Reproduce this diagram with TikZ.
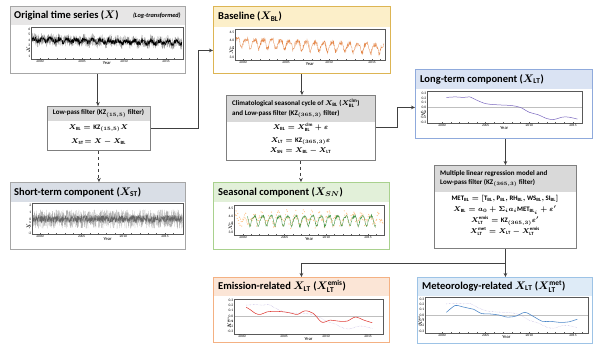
\documentclass[tikz,border=0pt]{standalone}
\usepackage{fontspec}
\setmainfont{Carlito}
\usetikzlibrary{arrows.meta}
\definecolor{grayB}{HTML}{A6A6A6}
\definecolor{grayH}{HTML}{E7E6E6}
\definecolor{yelB}{HTML}{DDB553}
\definecolor{yelH}{HTML}{FCEFC9}
\definecolor{stH}{HTML}{D9DEE6}
\definecolor{grnB}{HTML}{A9D18E}
\definecolor{grnH}{HTML}{E2F0D9}
\definecolor{bluB}{HTML}{8FAADC}
\definecolor{bluH}{HTML}{DAE3F3}
\definecolor{orgB}{HTML}{F4B183}
\definecolor{orgH}{HTML}{FBE5D6}
\definecolor{lbB}{HTML}{9DC3E6}
\definecolor{lbH}{HTML}{DEEBF7}
\definecolor{filB}{HTML}{7F7F7F}
\definecolor{filH}{HTML}{D9D9D9}
\definecolor{connC}{HTML}{404040}
\definecolor{blOrange}{HTML}{E58A4E}
\definecolor{snGreen}{HTML}{4E9A4E}
\definecolor{ltPurple}{HTML}{7B68C0}
\definecolor{emRed}{HTML}{E0403A}
\definecolor{meBlue}{HTML}{4A86C8}
\newcommand\axfr[6]{%
  \draw[frm] (#1,#3) rectangle (#2,#4);
  \foreach \yr/\lab in {0/2000,5/2005,10/2010,15/2015}{\node[tk,anchor=north] at (\yr,#3) {\lab};}
  \foreach \yr in {0,...,16}{\draw[frm] (\yr,#3) -- ([yshift=1pt]\yr,#3);}
  \foreach \v in {#5}{\node[tk,anchor=east] at (#1,\v) {\v};}
  \node[yrl,anchor=north,yshift=-2.6pt] at ({(#1+#2)/2},#3) {Year};
  \node[tk,rotate=90,anchor=south,xshift=-6pt] at (#1,{(#3+#4)/2}) {#6};
}
\begin{document}
\begin{tikzpicture}[x=1pt,y=-1pt,
  box/.style n args={3}{draw=#1, fill=white, line width=0.9pt, inner sep=0pt, anchor=north west,
    path picture={\fill[#2] (path picture bounding box.north west) rectangle ([yshift=-#3]path picture bounding box.north east);}},
  ttl/.style={font=\fontsize{10.5}{12}\selectfont\bfseries\boldmath, inner sep=0pt, anchor=west},
  fhd/.style={font=\fontsize{7}{9.2}\selectfont\bfseries\boldmath, inner sep=0pt, align=left},
  eq/.style={font=\fontsize{6.8}{8}\selectfont\boldmath, inner sep=0pt},
  frm/.style={draw=black!65, line width=0.35pt},
  tk/.style={font=\fontsize{3.6}{4}\selectfont, inner sep=0.6pt},
  yrl/.style={font=\fontsize{4.6}{5}\selectfont, inner sep=0pt},
  zl/.style={draw=black!25, line width=0.3pt},
  conn/.style={draw=connC, line width=1pt, -{Stealth[length=4pt,width=3.6pt]}}]
\useasboundingbox (0,0) rectangle (600,353);
\pgfmathsetseed{7}
% ---------- boxes ----------
\node[box={grayB}{grayH}{19pt}, minimum width=175pt, minimum height=67pt] (orig) at (10,6) {};
\node[box={yelB}{yelH}{21pt}, minimum width=177pt, minimum height=67pt] (base) at (213,6) {};
\node[box={grayB}{stH}{20pt}, minimum width=175pt, minimum height=67pt] (st) at (10,182) {};
\node[box={grnB}{grnH}{20pt}, minimum width=176pt, minimum height=67pt] (sn) at (213,182) {};
\node[box={bluB}{bluH}{20pt}, minimum width=177pt, minimum height=69pt] (lt) at (415,69) {};
\node[box={orgB}{orgH}{19pt}, minimum width=176pt, minimum height=65pt] (em) at (213,277) {};
\node[box={lbB}{lbH}{19pt}, minimum width=175pt, minimum height=66pt] (met) at (417,277) {};
\node[box={filB}{filH}{15pt}, minimum width=103pt, minimum height=44pt] (lp) at (47,106) {};
\node[box={filB}{filH}{27pt}, minimum width=149pt, minimum height=65pt] (clim) at (226,95) {};
\node[box={filB}{filH}{27pt}, minimum width=142pt, minimum height=83pt] (mlr) at (434,165) {};
% ---------- titles ----------
\node[ttl] (t1) at ([xshift=4pt,yshift=-9.5pt]orig.north west) {Original time series ($X$)};
\node[font=\fontsize{6.3}{7}\selectfont\bfseries\itshape, inner sep=0pt, anchor=east] (t1b) at ([xshift=-5pt,yshift=-9.5pt]orig.north east) {(Log-transformed)};
\node[ttl] (t2) at ([xshift=5pt,yshift=-10.5pt]base.north west) {Baseline ($X_{\mathrm{BL}}$)};
\node[ttl] (t3) at ([xshift=4pt,yshift=-10pt]st.north west) {Short-term component ($X_{\mathrm{ST}}$)};
\node[ttl] (t4) at ([xshift=5pt,yshift=-10pt]sn.north west) {Seasonal component ($X_{SN}$)};
\node[ttl] (t5) at ([xshift=5pt,yshift=-10pt]lt.north west) {Long-term component ($X_{\mathrm{LT}}$)};
\node[ttl] (t6) at ([xshift=5pt,yshift=-9.5pt]em.north west) {Emission-related $X_{\mathrm{LT}}$ ($X_{\mathrm{LT}}^{\mathrm{emis}}$)};
\node[ttl] (t7) at ([xshift=5pt,yshift=-9.5pt]met.north west) {Meteorology-related $X_{\mathrm{LT}}$ ($X_{\mathrm{LT}}^{\mathrm{met}}$)};
% ---------- filter boxes ----------
\node[fhd] (h1) at (98.5,113.5) {Low-pass filter (KZ$_{(15,5)}$ filter)};
\node[eq] (e11) at (98.5,128) {$X_{\mathrm{BL}} = \mathrm{KZ}_{(15,5)}X$};
\node[eq] (e12) at (98.5,142) {$X_{\mathrm{ST}}\!= X - X_{\mathrm{BL}}$};
\node[fhd, anchor=west] (h2) at (232,108.5) {Climatological seasonal cycle of $X_{\mathrm{BL}}$ ($X_{\mathrm{BL}}^{\mathrm{clm}}$)\\ and Low-pass filter (KZ$_{(365,3)}$ filter)};
\node[eq] (e21) at (300.5,127.5) {$X_{\mathrm{BL}} = X_{\mathrm{BL}}^{\mathrm{clm}} + \varepsilon$};
\node[eq] (e22) at (300.5,141) {$X_{\mathrm{LT}} = \mathrm{KZ}_{(365,3)}\varepsilon$};
\node[eq] (e23) at (300.5,150.5) {$X_{\mathrm{SN}} = X_{\mathrm{BL}} - X_{\mathrm{LT}}$};
\node[fhd, anchor=west] (h3) at (440,178.5) {Multiple linear regression model and\\ Low-pass filter (KZ$_{(365,3)}$ filter)};
\node[eq] (e31) at (505,198.5) {$\mathrm{MET}_{\mathrm{BL}} = [\mathrm{T}_{\mathrm{BL}}, \mathrm{P}_{\mathrm{BL}}, \mathrm{RH}_{\mathrm{BL}}, \mathrm{WS}_{\mathrm{BL}}, \mathrm{SI}_{\mathrm{BL}}]$};
\node[eq] (e32) at (505,210) {$X_{\mathrm{BL}} = a_0 + \Sigma_i a_i \mathrm{MET}_{\mathrm{BL}_i} + \varepsilon'$};
\node[eq] (e33) at (505,221) {$X_{\mathrm{LT}}^{\mathrm{emis}} = \mathrm{KZ}_{(365,3)}\varepsilon'$};
\node[eq] (e34) at (505,231.5) {$X_{\mathrm{LT}}^{\mathrm{met}} = X_{\mathrm{LT}} - X_{\mathrm{LT}}^{\mathrm{emis}}$};
% ---------- plots ----------
% Original
\begin{scope}[shift={(40,62.2)}, x=8.4pt, y=5.5pt]
  \draw[black!40, line width=0.2pt] plot[domain=-0.95:16.9, samples=900] (\x,{4.05-0.03*\x+0.25*sin(360*\x)+1.1*rand});
  \draw[black, line width=0.25pt] plot[domain=-0.95:16.9, samples=900] (\x,{4.05-0.03*\x+0.25*sin(360*\x)+0.45*rand});
  \axfr{-1.07}{17.0}{0.58}{6.3}{1,2,3,4,5,6}{$X$}
\end{scope}
% Baseline
\begin{scope}[shift={(243,107.1)}, x=8.6pt, y=16.7pt]
  \draw[blOrange, line width=0.3pt] plot[domain=-0.85:16.4, samples=500] (\x,{3.88-0.022*\x+0.26*sin(360*(\x-0.1))+0.08*sin(720*\x+40)+0.13*rand});
  \axfr{-0.93}{16.5}{2.82}{4.68}{3.0,3.5,4.0,4.5}{$X_{\mathrm{BL}}$}
\end{scope}
% Short-term
\begin{scope}[shift={(40,219)}, x=8.33pt, y=7pt]
  \draw[black!30, line width=0.2pt] plot[domain=-0.9:17.1, samples=900] (\x,{1.35*rand});
  \draw[black!60, line width=0.2pt] plot[domain=-0.9:17.1, samples=900] (\x,{0.55*rand});
  \axfr{-0.96}{17.2}{-2.2}{2.2}{-2,-1,0,1,2}{$X_{\mathrm{ST}}$}
\end{scope}
% Seasonal
\begin{scope}[shift={(243,280)}, x=8.33pt, y=16pt]
  \fill[orange!45] plot[only marks, mark=*, mark size=0.3pt, domain=-0.9:16.8, samples=260] (\x,{3.8+0.3*sin(360*\x)+0.3*rand});
  \draw[snGreen, line width=0.4pt] plot[domain=0.5:15.9, samples=450] (\x,{3.75+0.3*sin(360*(\x-0.1))+0.08*sin(720*\x+40)+0.07*rand});
  \axfr{-1.08}{17.0}{2.81}{4.69}{3.0,3.5,4.0,4.5}{$X_{\mathrm{SN}}$}
\end{scope}
% Long-term
\begin{scope}[shift={(442,107.5)}, x=8.73pt, y=48pt]
  \draw[zl] (-1.72,0) -- (16.0,0);
  \draw[ltPurple, line width=0.5pt] plot[smooth] coordinates {(0.5,0.21) (1.5,0.22) (2.5,0.21) (3.2,0.22) (4,0.15) (5,0.08) (6,0.06) (7,0.05) (8,0.04) (9,0.0) (10,-0.1) (11,-0.15) (12,-0.23) (12.8,-0.25) (13.8,-0.2) (14.5,-0.2) (15.5,-0.24)};
  \axfr{-1.72}{16.0}{-0.33}{0.33}{0.3,0.2,0.1,0.0,-0.1,-0.2,-0.3}{$X_{\mathrm{LT}}$}
\end{scope}
% Emission
\begin{scope}[shift={(242,316)}, x=8.4pt, y=51.7pt]
  \draw[zl] (-0.95,0) -- (16.8,0);
  \draw[ltPurple!60, line width=0.4pt, densely dotted] plot[smooth] coordinates {(0.5,0.21) (1.5,0.22) (2.5,0.21) (3.2,0.22) (4,0.15) (5,0.08) (6,0.06) (7,0.05) (8,0.04) (9,0.0) (10,-0.1) (11,-0.15) (12,-0.23) (12.8,-0.25) (13.8,-0.2) (14.5,-0.2) (15.5,-0.24)};
  \draw[emRed, line width=0.55pt] plot[smooth] coordinates {(0.5,0.17) (1,0.12) (1.6,0.05) (2.2,0.03) (3,0.08) (4,0.09) (5,0.08) (6,0.05) (6.6,0.03) (7.5,0.1) (8.5,0.05) (9.5,-0.12) (10.5,-0.08) (11.5,-0.1) (12.5,-0.1) (13.5,-0.02) (14.5,-0.08) (15.5,-0.13)};
  \axfr{-0.95}{16.8}{-0.36}{0.33}{0.3,0.2,0.1,0.0,-0.1,-0.2,-0.3}{$X_{\mathrm{LT}}^{\mathrm{emis}}$}
\end{scope}
% Meteorology
\begin{scope}[shift={(442,315)}, x=8.73pt, y=53pt]
  \draw[zl] (-1.95,0) -- (16.7,0);
  \draw[ltPurple!60, line width=0.4pt, densely dotted] plot[smooth] coordinates {(0.5,0.21) (1.5,0.22) (2.5,0.21) (3.2,0.22) (4,0.15) (5,0.08) (6,0.06) (7,0.05) (8,0.04) (9,0.0) (10,-0.1) (11,-0.15) (12,-0.23) (12.8,-0.25) (13.8,-0.2) (14.5,-0.2) (15.5,-0.24)};
  \draw[meBlue, line width=0.55pt] plot[smooth] coordinates {(0.5,0.05) (1.5,0.18) (2.2,0.16) (3,0.13) (3.6,0.11) (4.5,0.03) (5.5,0.02) (6.5,0.0) (7.5,-0.04) (8.5,-0.02) (9.5,0.05) (10.5,-0.03) (11.5,-0.12) (12.5,-0.12) (13.5,-0.14) (14.5,-0.13) (15.5,-0.08)};
  \axfr{-1.95}{16.7}{-0.34}{0.33}{0.3,0.2,0.1,0.0,-0.1,-0.2,-0.3}{$X_{\mathrm{LT}}^{\mathrm{met}}$}
\end{scope}
% ---------- connectors ----------
\draw[conn] (orig.south) -- (orig.south |- lp.north);
\draw[conn] (lp.east) -- ([xshift=48pt]lp.east) |- ([yshift=-10.5pt]base.west);
\draw[conn, dashed] (lp.south) -- (lp.south |- st.north);
\draw[conn] (base.south) -- (base.south |- clim.north);
\draw[conn, dashed] (clim.south) -- (clim.south |- sn.north);
\draw[conn] (clim.east) -- ([xshift=22pt]clim.east) |- ([yshift=-3.5pt]lt.west);
\draw[conn] (mlr.north |- lt.south) -- (mlr.north);
\draw[conn] (mlr.south) -- (mlr.south |- met.north);
\coordinate (split) at ([yshift=-15pt]mlr.south);
\draw[conn] (split) -| (em.north);
\end{tikzpicture}
\end{document}
